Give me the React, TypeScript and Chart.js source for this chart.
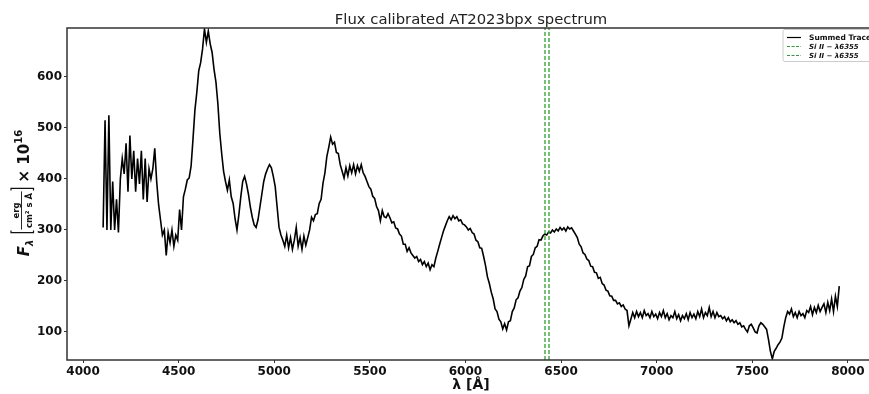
import { useEffect, useRef } from 'react';
import { Chart, registerables } from 'chart.js';

Chart.register(...registerables);

// Wavelength grid (Å)
const wavelengths = [
  4105, 4115, 4125, 4135, 4145, 4155, 4165, 4175, 4185, 4195,
  4205, 4215, 4225, 4235, 4245, 4255, 4265, 4275, 4285, 4295,
  4305, 4315, 4325, 4335, 4345, 4355, 4365, 4375, 4385, 4395,
  4405, 4415, 4425, 4435, 4445, 4455, 4465, 4475, 4485, 4495,
  4505, 4515, 4525, 4535, 4545, 4555, 4565, 4575, 4585, 4595,
  4605, 4615, 4625, 4635, 4645, 4655, 4665, 4675, 4685, 4695,
  4705, 4715, 4725, 4735, 4745, 4755, 4765, 4775, 4785, 4795,
  4805, 4815, 4825, 4835, 4845, 4855, 4865, 4875, 4885, 4895,
  4905, 4915, 4925, 4935, 4945, 4955, 4965, 4975, 4985, 4995,
  5005, 5015, 5025, 5035, 5045, 5055, 5065, 5075, 5085, 5095,
  5105, 5115, 5125, 5135, 5145, 5155, 5165, 5175, 5185, 5195,
  5205, 5215, 5225, 5235, 5245, 5255, 5265, 5275, 5285, 5295,
  5305, 5315, 5325, 5335, 5345, 5355, 5365, 5375, 5385, 5395,
  5405, 5415, 5425, 5435, 5445, 5455, 5465, 5475, 5485, 5495,
  5505, 5515, 5525, 5535, 5545, 5555, 5565, 5575, 5585, 5595,
  5605, 5615, 5625, 5635, 5645, 5655, 5665, 5675, 5685, 5695,
  5705, 5715, 5725, 5735, 5745, 5755, 5765, 5775, 5785, 5795,
  5805, 5815, 5825, 5835, 5845, 5855, 5865, 5875, 5885, 5895,
  5905, 5915, 5925, 5935, 5945, 5955, 5965, 5975, 5985, 5995,
  6005, 6015, 6025, 6035, 6045, 6055, 6065, 6075, 6085, 6095,
  6105, 6115, 6125, 6135, 6145, 6155, 6165, 6175, 6185, 6195,
  6205, 6215, 6225, 6235, 6245, 6255, 6265, 6275, 6285, 6295,
  6305, 6315, 6325, 6335, 6345, 6355, 6365, 6375, 6385, 6395,
  6405, 6415, 6425, 6435, 6445, 6455, 6465, 6475, 6485, 6495,
  6505, 6515, 6525, 6535, 6545, 6555, 6565, 6575, 6585, 6595,
  6605, 6615, 6625, 6635, 6645, 6655, 6665, 6675, 6685, 6695,
  6705, 6715, 6725, 6735, 6745, 6755, 6765, 6775, 6785, 6795,
  6805, 6815, 6825, 6835, 6845, 6855, 6865, 6875, 6885, 6895,
  6905, 6915, 6925, 6935, 6945, 6955, 6965, 6975, 6985, 6995,
  7005, 7015, 7025, 7035, 7045, 7055, 7065, 7075, 7085, 7095,
  7105, 7115, 7125, 7135, 7145, 7155, 7165, 7175, 7185, 7195,
  7205, 7215, 7225, 7235, 7245, 7255, 7265, 7275, 7285, 7295,
  7305, 7315, 7325, 7335, 7345, 7355, 7365, 7375, 7385, 7395,
  7405, 7415, 7425, 7435, 7445, 7455, 7465, 7475, 7485, 7495,
  7505, 7515, 7525, 7535, 7545, 7555, 7565, 7575, 7585, 7595,
  7605, 7615, 7625, 7635, 7645, 7655, 7665, 7675, 7685, 7695,
  7705, 7715, 7725, 7735, 7745, 7755, 7765, 7775, 7785, 7795,
  7805, 7815, 7825, 7835, 7845, 7855, 7865, 7875, 7885, 7895,
  7905, 7915, 7925, 7935, 7945, 7955,
];

// Flux (× 10^16 erg / cm² s Å)
const flux = [
  305, 515, 300, 525, 300, 395, 300, 360, 295, 400,
  440, 410, 470, 375, 485, 400, 455, 375, 440, 390,
  455, 360, 440, 355, 420, 400, 420, 460, 395, 350,
  320, 290, 300, 250, 295, 275, 300, 268, 290, 280,
  340, 300, 365, 380, 398, 402, 425, 478, 535, 570,
  612, 628, 655, 694, 668, 690, 665, 648, 615, 590,
  548, 490, 450, 415, 395, 378, 398, 365, 352, 322,
  300, 330, 365, 395, 405, 390, 370, 345, 325, 310,
  305, 320, 345, 370, 395, 410, 420, 428, 422, 405,
  385, 345, 305, 290, 280, 268, 290, 265, 285, 262,
  280, 305, 268, 285, 262, 288, 270, 285, 300, 325,
  318, 330, 332, 352, 360, 392, 412, 444, 462, 482,
  468, 472, 452, 450, 428, 415, 402, 422, 406, 426,
  412, 428, 410, 426, 415, 428, 412, 405, 395, 385,
  380, 366, 362, 346, 338, 318, 338, 326, 324, 332,
  324, 314, 316, 304, 302, 292, 288, 272, 272, 258,
  265, 255, 250, 245, 248, 238, 242, 232, 238, 228,
  235, 222, 232, 228, 245, 258, 272, 285, 298, 308,
  318, 326, 320, 328, 322, 326, 318, 320, 312, 310,
  306, 300, 303, 295, 292, 280, 277, 265, 264, 248,
  230, 208, 195, 178, 165, 145, 140, 125, 120, 106,
  116, 104, 120, 122, 140, 147, 163, 167, 180, 187,
  203, 210, 228, 230, 248, 252, 265, 268, 281, 280,
  288, 292, 290, 296, 294, 300, 296, 302, 298, 305,
  300, 304, 298, 306, 302, 304, 298, 292, 285, 272,
  267, 255, 252, 243, 240, 229, 228, 217, 216, 205,
  207, 195, 192, 182, 180, 171, 170, 162, 162, 155,
  157, 150, 153, 145, 142, 112, 125, 138, 128, 140,
  130, 138, 128, 142, 132, 136, 128, 140, 130, 135,
  126, 138, 130, 142, 128, 136, 124, 132, 128, 140,
  126, 134, 122, 132, 126, 136, 124, 138, 128, 135,
  126, 140, 130, 145, 128, 138, 132, 148, 130, 140,
  128, 138, 130, 132, 126, 130, 122, 128, 120, 124,
  118, 122, 115, 118, 110, 112, 105, 100, 112, 115,
  108, 100, 98, 112, 118, 115, 110, 105, 85, 62,
  47, 62, 68, 75, 80, 88, 110, 128, 140, 135,
  145, 130, 138, 128, 140, 132, 136, 128, 142, 138,
  150, 134, 148, 138, 152, 140, 148, 155, 138, 158,
  142, 165, 140, 170, 150, 190,
];

const siIILines = [6416, 6437];
const xTicks = [4000, 4500, 5000, 5500, 6000, 6500, 7000, 7500, 8000];
const yTicks = [100, 200, 300, 400, 500, 600];
const xLimits = [3916, 8142];
const yLimits = [45, 696];
const titleText = 'Flux calibrated AT2023bpx spectrum';
const xLabel = 'λ [Å]';
const legendLabels = ['Summed Trace', 'Si II − λ6355', 'Si II − λ6355'];

const FONT = '"DejaVu Sans", "Liberation Sans", sans-serif';
const GREEN = '#2ca02c';

const decorPlugin = {
  id: 'decor',
  afterDraw(chart: any) {
    const { ctx, chartArea: a } = chart;
    ctx.save();
    // frame
    ctx.strokeStyle = '#333';
    ctx.lineWidth = 1.5;
    ctx.strokeRect(a.left, a.top, a.right - a.left, a.bottom - a.top);

    const cx = (a.left + a.right) / 2;
    // title
    ctx.fillStyle = '#222';
    ctx.font = `14.8px ${FONT}`;
    ctx.textAlign = 'center';
    ctx.textBaseline = 'alphabetic';
    ctx.fillText(titleText, cx, 24);

    // x label
    ctx.fillStyle = '#111';
    ctx.font = `bold 14px ${FONT}`;
    ctx.fillText(xLabel, cx, 389);

    // legend
    const lw = 92, lh = 32;
    const lx = a.right - lw, ly = a.top + 1.5;
    ctx.beginPath();
    const r = 2;
    ctx.moveTo(lx + r, ly);
    ctx.lineTo(lx + lw - r, ly);
    ctx.quadraticCurveTo(lx + lw, ly, lx + lw, ly + r);
    ctx.lineTo(lx + lw, ly + lh - r);
    ctx.quadraticCurveTo(lx + lw, ly + lh, lx + lw - r, ly + lh);
    ctx.lineTo(lx + r, ly + lh);
    ctx.quadraticCurveTo(lx, ly + lh, lx, ly + lh - r);
    ctx.lineTo(lx, ly + r);
    ctx.quadraticCurveTo(lx, ly, lx + r, ly);
    ctx.closePath();
    ctx.fillStyle = 'rgba(255,255,255,0.85)';
    ctx.fill();
    ctx.strokeStyle = '#cccccc';
    ctx.lineWidth = 1;
    ctx.stroke();
    const rows = [ly + 8, ly + 17, ly + 26];
    legendLabels.forEach((lab, i) => {
      ctx.beginPath();
      ctx.strokeStyle = i === 0 ? '#000' : GREEN;
      ctx.lineWidth = 1.2;
      ctx.setLineDash(i === 0 ? [] : [3, 1.5]);
      ctx.moveTo(lx + 4, rows[i]);
      ctx.lineTo(lx + 18, rows[i]);
      ctx.stroke();
      ctx.setLineDash([]);
      ctx.fillStyle = '#111';
      ctx.font = i === 0 ? `bold 7.5px ${FONT}` : `bold italic 7px ${FONT}`;
      ctx.textAlign = 'left';
      ctx.textBaseline = 'middle';
      ctx.fillText(lab, lx + 26, rows[i] + 0.5);
    });

    // y label (rotated)
    ctx.save();
    ctx.translate(29, 193);
    ctx.rotate(-Math.PI / 2);
    ctx.fillStyle = '#111';
    ctx.strokeStyle = '#111';
    ctx.textAlign = 'left';
    ctx.textBaseline = 'alphabetic';
    const fBig = `bold italic 15px ${FONT}`;
    const fSub = `bold italic 10px ${FONT}`;
    const fFrac = `bold 8.5px ${FONT}`;
    const fMain = `bold 15px ${FONT}`;
    const fSup = `bold 10px ${FONT}`;
    const meas = (f: string, t: string) => { ctx.font = f; return ctx.measureText(t).width; };
    const wF = meas(fBig, 'F');
    const wL = meas(fSub, 'λ');
    const wNum = meas(fFrac, 'erg');
    const wDen = meas(fFrac, 'cm² s Å');
    const wFrac = Math.max(wNum, wDen) + 3;
    const wTimes = meas(fMain, '× 10');
    const wSup = meas(fSup, '16');
    const gap1 = 6, br = 4, gap2 = 5;
    const total = wF + wL + gap1 + br + wFrac + br + gap2 + wTimes + wSup;
    let c = -total / 2;
    ctx.font = fBig; ctx.fillText('F', c, 0); c += wF;
    ctx.font = fSub; ctx.fillText('λ', c, 3.5); c += wL + gap1;
    ctx.lineWidth = 1.2;
    ctx.beginPath();
    ctx.moveTo(c + 3, -18); ctx.lineTo(c + 1, -18); ctx.lineTo(c + 1, 4.5); ctx.lineTo(c + 3, 4.5);
    ctx.stroke();
    c += br;
    ctx.font = fFrac;
    ctx.fillText('erg', c + (wFrac - wNum) / 2, -10.5);
    ctx.beginPath();
    ctx.lineWidth = 0.9;
    ctx.moveTo(c, -7.5); ctx.lineTo(c + wFrac, -7.5);
    ctx.stroke();
    ctx.fillText('cm² s Å', c + (wFrac - wDen) / 2, 2.5);
    c += wFrac;
    ctx.lineWidth = 1.2;
    ctx.beginPath();
    ctx.moveTo(c + 1, -18); ctx.lineTo(c + 3, -18); ctx.lineTo(c + 3, 4.5); ctx.lineTo(c + 1, 4.5);
    ctx.stroke();
    c += br + gap2;
    ctx.font = fMain; ctx.fillText('× 10', c, 0); c += wTimes;
    ctx.font = fSup; ctx.fillText('16', c, -7);
    ctx.restore();

    ctx.restore();
  },
};

export default function App() {
  const ref = useRef<HTMLCanvasElement | null>(null);
  useEffect(() => {
    if (!ref.current) return;
    const tickFont = { family: FONT, size: 12, weight: 'bold' as const };
    const chart = new Chart(ref.current, {
      type: 'line',
      data: {
        datasets: [
          {
            label: legendLabels[0],
            data: wavelengths.map((w, i) => ({ x: w, y: flux[i] })),
            borderColor: '#000',
            borderWidth: 1.6,
            pointRadius: 0,
            fill: false,
            tension: 0,
            order: 1,
          },
          ...siIILines.map((w, i) => ({
            label: legendLabels[i + 1],
            data: [{ x: w, y: yLimits[0] }, { x: w, y: yLimits[1] }],
            borderColor: GREEN,
            borderDash: [4, 2],
            borderWidth: 1.3,
            pointRadius: 0,
            fill: false,
            order: 0,
          })),
        ],
      },
      options: {
        animation: false,
        responsive: false,
        devicePixelRatio: 1,
        layout: { padding: { top: 28, right: 25, bottom: 0, left: 0 } },
        plugins: {
          legend: { display: false },
          title: { display: false },
          tooltip: { enabled: false },
        },
        scales: {
          x: {
            type: 'linear',
            min: xLimits[0],
            max: xLimits[1],
            afterFit: (s: any) => { s.height = 34; },
            afterBuildTicks: (s: any) => { s.ticks = xTicks.map((v) => ({ value: v })); },
            ticks: {
              font: tickFont,
              color: '#111',
              padding: 2,
              maxRotation: 0,
              autoSkip: false,
              callback: (v: any) => String(v),
            },
            grid: { drawOnChartArea: false, drawTicks: true, tickLength: 3, color: '#333' },
            border: { display: false },
          },
          y: {
            type: 'linear',
            min: yLimits[0],
            max: yLimits[1],
            afterFit: (s: any) => { s.width = 67; },
            afterBuildTicks: (s: any) => { s.ticks = yTicks.map((v) => ({ value: v })); },
            ticks: {
              font: tickFont,
              color: '#111',
              padding: 2,
              autoSkip: false,
              callback: (v: any) => String(v),
            },
            grid: { drawOnChartArea: false, drawTicks: true, tickLength: 3, color: '#333' },
            border: { display: false },
          },
        },
      },
      plugins: [decorPlugin],
    } as any);
    return () => chart.destroy();
  }, []);

  return (
    <div
      style={{
        position: 'fixed',
        left: 0,
        top: 0,
        width: 869,
        height: 394,
        overflow: 'hidden',
        background: '#fff',
      }}
    >
      <canvas ref={ref} width={900} height={394} style={{ display: 'block', width: 900, height: 394 }} />
    </div>
  );
}
